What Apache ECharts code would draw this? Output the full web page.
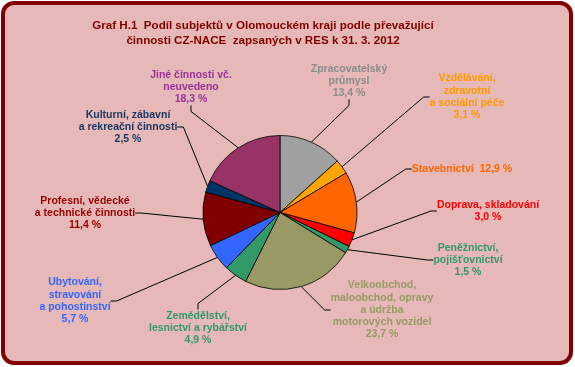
<!DOCTYPE html>
<html>
<head>
<meta charset="utf-8">
<script src="https://cdn.jsdelivr.net/npm/echarts@6/dist/echarts.min.js"></script>
<style>
html,body{margin:0;padding:0;background:#ffffff;}
#chart{width:575px;height:367px;}
</style>
</head>
<body>
<div id="chart"></div>
<script>
// ---- data ----
var titleLines = ['Graf H.1  Podíl subjektů v Olomouckém kraji podle převažující', 'činnosti CZ-NACE  zapsaných v RES k 31. 3. 2012'];
var categories = [
  'Zpracovatelský\nprůmysl',
  'Vzdělávání,\nzdravotní\na sociální péče',
  'Stavebnictví ',
  'Doprava, skladování',
  'Peněžnictví,\npojišťovnictví',
  'Velkoobchod,\nmaloobchod, opravy\na údržba\nmotorových vozidel',
  'Zemědělství,\nlesnictví a rybářství',
  'Ubytování,\nstravování\na pohostinství',
  'Profesní, vědecké\na technické činnosti',
  'Kulturní, zábavní\na rekreační činnosti',
  'Jiné činnosti vč.\nneuvedeno'
];
var values = [13.4, 3.1, 12.9, 3.0, 1.5, 23.7, 4.9, 5.7, 11.4, 2.5, 18.3];
// label separator: newline or space before the percentage
var valueSep = ['\n', '\n', ' ', '\n', '\n', '\n', '\n', '\n', '\n', '\n', '\n'];

// ---- styles / layout ----
var sliceColors = ['#A0A0A0', '#FFA500', '#FF6600', '#FF0000', '#339966', '#999966', '#339966', '#3366FF', '#800000', '#003366', '#993366'];
var labelColors = ['#8C8C8C', '#FF9900', '#FF6600', '#FF0000', '#339966', '#999966', '#339966', '#3366FF', '#990000', '#17375E', '#993399'];
var labelPos = [
  [349, 81], [467, 97], [462, 169], [488, 211], [468, 260],
  [382, 310], [198, 328], [75, 301], [85, 213], [128, 127], [191, 87]
];

function fmt(v) { return v.toFixed(1).replace('.', ',') + ' %'; }

var data = categories.map(function (c, i) {
  return {
    name: c,
    value: values[i],
    itemStyle: { color: sliceColors[i] },
    label: { color: labelColors[i], formatter: c + valueSep[i] + fmt(values[i]) }
  };
});

var chart = echarts.init(document.getElementById('chart'), null, { renderer: 'canvas' });
chart.setOption({
  animation: false,
  backgroundColor: '#ffffff',
  graphic: [{
    type: 'rect',
    z: -10,
    shape: { x: 3, y: 3, width: 568, height: 360, r: 11 },
    style: { fill: '#E6B9B8', stroke: '#800000', lineWidth: 4 }
  }, {
    type: 'text',
    z: 10,
    x: 263,
    y: 33.5,
    style: {
      text: titleLines.join('\n'),
      align: 'center',
      verticalAlign: 'middle',
      fontFamily: 'Liberation Sans, Arial, sans-serif',
      fontSize: 11.6,
      fontWeight: 'bold',
      fill: '#800000',
      lineHeight: 15
    }
  }],
  series: [{
    type: 'pie',
    center: [280, 212.5],
    radius: 77,
    startAngle: 90,
    clockwise: true,
    data: data,
    itemStyle: { borderColor: '#000000', borderWidth: 0.8 },
    label: {
      show: true,
      position: 'outside',
      fontFamily: 'Liberation Sans, Arial, sans-serif',
      fontSize: 10.5,
      fontWeight: 'bold',
      lineHeight: 12.3,
      align: 'center'
    },
    labelLine: {
      show: true,
      length: 10,
      length2: 6,
      lineStyle: { color: '#000000', width: 1 }
    },
    labelLayout: function (params) {
      var p = labelPos[params.dataIndex];
      return { x: p[0], y: p[1], align: 'center', verticalAlign: 'middle' };
    },
    emphasis: { disabled: true }
  }]
});
</script>
</body>
</html>
